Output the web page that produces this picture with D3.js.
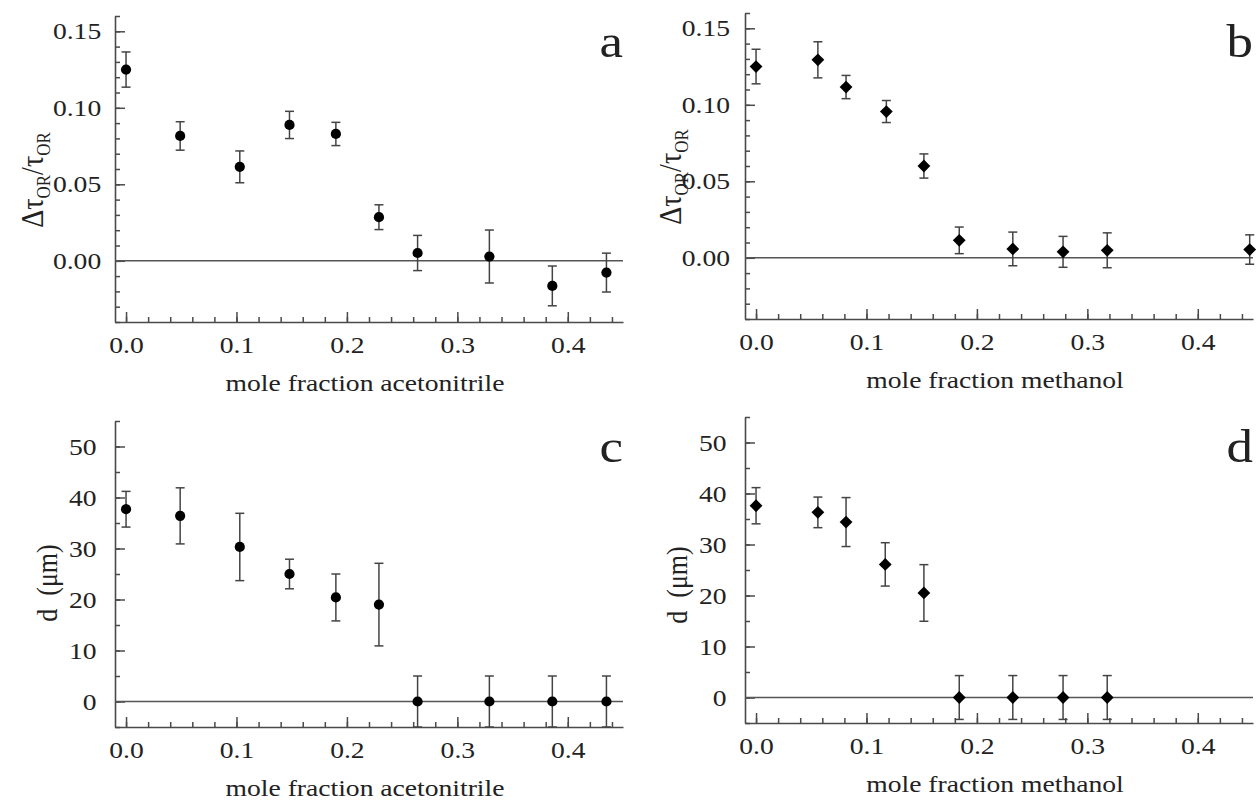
<!DOCTYPE html>
<html>
<head>
<meta charset="utf-8">
<script src="https://cdn.jsdelivr.net/npm/d3@7"></script>
<style>
  body { margin: 0; background: #fff; }
  text { font-family: "Liberation Serif", "Times New Roman", serif; fill: #222; }
</style>
</head>
<body>
<div id="chart"></div>
<script>
// mole fractions
const xAcn = [0, 0.049, 0.103, 0.148, 0.19, 0.229, 0.264, 0.329, 0.386, 0.435];
const xMeoh = [0, 0.056, 0.0815, 0.118, 0.152, 0.184, 0.2325, 0.278, 0.318, 0.447];
const xMeohD = [0, 0.056, 0.0815, 0.117, 0.152, 0.184, 0.2325, 0.278, 0.318];

// relative change of tau_OR
const tauAcn = [0.125, 0.0816, 0.0614, 0.0888, 0.0829, 0.0285, 0.0051, 0.0028, -0.0164, -0.0077];
const tauAcnErr = [0.0115, 0.0093, 0.0104, 0.0089, 0.0076, 0.0081, 0.0115, 0.0173, 0.013, 0.0127];
const tauMeoh = [0.125, 0.1294, 0.1116, 0.0956, 0.06, 0.0114, 0.0058, 0.0039, 0.0049, 0.0054];
const tauMeohErr = [0.0113, 0.0118, 0.0076, 0.0072, 0.0079, 0.0087, 0.011, 0.0101, 0.0114, 0.0096];

// d (um)
const dAcn = [37.7, 36.4, 30.3, 25, 20.4, 19.0, 0, 0, 0, 0];
const dAcnErr = [3.5, 5.5, 6.6, 2.9, 4.6, 8.1, 5, 5, 5, 5];
const dMeoh = [37.6, 36.3, 34.4, 26.1, 20.5, 0, 0, 0, 0];
const dMeohErr = [3.55, 3.0, 4.8, 4.25, 5.55, 4.3, 4.3, 4.3, 4.3];

const xMajor = [0, 0.1, 0.2, 0.3, 0.4];
const tauMajor = [0, 0.05, 0.10, 0.15];
const dMajor = [0, 10, 20, 30, 40, 50];

const W = 1259, H = 803;
const plotW = 508, plotH = 306;
const sx = 1.15; // the figure's text is a bit wide

const svg = d3.select("#chart").append("svg")
    .attr("width", W).attr("height", H);

function drawPanel(p) {
    const g = svg.append("g").attr("transform", `translate(${p.left},${p.top})`);

    const x = d3.scaleLinear().domain([-0.01, 0.45]).range([0, plotW]);
    const y = d3.scaleLinear().domain(p.yDomain).range([plotH, 0]);

    // minor ticks first
    const xMinor = d3.range(0, 23).map(i => i * 0.02);
    g.append("g").attr("transform", `translate(0,${plotH})`)
        .call(d3.axisBottom(x).tickValues(xMinor).tickSize(-5).tickSizeOuter(0).tickFormat(""))
        .call(a => a.select(".domain").remove());
    g.append("g")
        .call(d3.axisLeft(y).tickValues(p.yMinor).tickSize(-5).tickSizeOuter(0).tickFormat(""))
        .call(a => a.select(".domain").remove());

    const xAxis = g.append("g").attr("transform", `translate(0,${plotH})`)
        .call(d3.axisBottom(x).tickValues(xMajor).tickSize(-10).tickSizeOuter(0)
            .tickPadding(8).tickFormat(d3.format(".1f")));
    xAxis.selectAll("text").attr("y", 31).attr("dy", null)
        .attr("transform", `scale(${sx},1)`);

    const yAxis = g.append("g")
        .call(d3.axisLeft(y).tickValues(p.yMajor).tickSize(-10).tickSizeOuter(0)
            .tickPadding(p.labelGap).tickFormat(p.fmt));
    yAxis.selectAll("text").attr("transform", `scale(${sx},1)`);

    g.selectAll(".tick line").attr("stroke", "#4a4a4a").attr("stroke-width", 1.5);
    g.selectAll(".domain").attr("stroke", "#4a4a4a").attr("stroke-width", 1.6);
    g.selectAll(".tick text").attr("font-size", 24).attr("fill", "#2a2a2a")
        .attr("font-family", "'Liberation Serif', 'Times New Roman', serif");

    // zero line
    g.append("line")
        .attr("x1", 0).attr("x2", plotW)
        .attr("y1", y(0)).attr("y2", y(0))
        .attr("stroke", "#555").attr("stroke-width", 1.4);

    const pts = p.xs.map((v, i) => ({x: v, y: p.ys[i], e: p.errs[i]}));

    // error bars
    const eb = g.append("g").selectAll("g").data(pts).join("g")
        .attr("stroke", "#444").attr("stroke-width", 1.5);
    eb.append("line")
        .attr("x1", d => x(d.x)).attr("x2", d => x(d.x))
        .attr("y1", d => y(d.y - d.e)).attr("y2", d => y(d.y + d.e));
    eb.append("line")
        .attr("x1", d => x(d.x) - 4.5).attr("x2", d => x(d.x) + 4.5)
        .attr("y1", d => y(d.y + d.e)).attr("y2", d => y(d.y + d.e));
    eb.append("line")
        .attr("x1", d => x(d.x) - 4.5).attr("x2", d => x(d.x) + 4.5)
        .attr("y1", d => y(d.y - d.e)).attr("y2", d => y(d.y - d.e));

    // markers
    const diamond = p.marker === "diamond";
    const sym = diamond
        ? d3.symbol().type(d3.symbolSquare).size(82)
        : d3.symbol().type(d3.symbolCircle).size(82);
    g.append("g").selectAll("path").data(pts).join("path")
        .attr("d", sym)
        .attr("transform", d => `translate(${x(d.x)},${y(d.y)})` + (diamond ? " rotate(45)" : ""))
        .attr("fill", "#000");

    // axis title
    g.append("text")
        .attr("transform", `translate(${plotW / 2 - 4},${plotH + 69}) scale(${sx},1)`)
        .attr("text-anchor", "middle")
        .attr("font-size", 24)
        .text(p.xTitle);

    const yt = g.append("text")
        .attr("transform", `translate(${-p.yTitleX},${p.yTitleY}) scale(${sx},1) rotate(-90)`)
        .attr("text-anchor", "middle")
        .attr("font-size", p.tau ? 28 : 26);
    if (p.tau) {
        yt.append("tspan").text("\u0394\u03c4");
        yt.append("tspan").attr("font-size", 17).attr("dy", 6).text("OR");
        yt.append("tspan").attr("dy", -6).text("/\u03c4");
        yt.append("tspan").attr("font-size", 17).attr("dy", 6).text("OR");
    } else {
        yt.text("d\u00a0\u00a0(\u03bcm)");
    }

    // panel letter
    g.append("text")
        .attr("transform", `translate(${plotW},${p.letterY}) scale(${sx},1)`)
        .attr("text-anchor", "end")
        .attr("font-size", 46)
        .text(p.letter);
}

const tauMinor = d3.range(-4, 17).map(i => i * 0.01);
const dMinor = d3.range(-1, 12).map(i => i * 5);

drawPanel({left: 115, top: 16, xs: xAcn, ys: tauAcn, errs: tauAcnErr, marker: "circle",
    yDomain: [-0.04, 0.16], yMajor: tauMajor, yMinor: tauMinor, fmt: d3.format(".2f"), labelGap: 12,
    xTitle: "mole fraction acetonitrile", tau: true, yTitleX: 72, yTitleY: 164, letter: "a", letterY: 41});
drawPanel({left: 745, top: 13, xs: xMeoh, ys: tauMeoh, errs: tauMeohErr, marker: "diamond",
    yDomain: [-0.04, 0.16], yMajor: tauMajor, yMinor: tauMinor, fmt: d3.format(".2f"), labelGap: 13,
    xTitle: "mole fraction methanol", tau: true, yTitleX: 64, yTitleY: 164, letter: "b", letterY: 44});
drawPanel({left: 115, top: 421, xs: xAcn, ys: dAcn, errs: dAcnErr, marker: "circle",
    yDomain: [-5, 55], yMajor: dMajor, yMinor: dMinor, fmt: d3.format("d"), labelGap: 16,
    xTitle: "mole fraction acetonitrile", tau: false, yTitleX: 58, yTitleY: 162, letter: "c", letterY: 41});
drawPanel({left: 745, top: 417, xs: xMeohD, ys: dMeoh, errs: dMeohErr, marker: "diamond",
    yDomain: [-5, 55], yMajor: dMajor, yMinor: dMinor, fmt: d3.format("d"), labelGap: 16,
    xTitle: "mole fraction methanol", tau: false, yTitleX: 58, yTitleY: 168, letter: "d", letterY: 45});
</script>
</body>
</html>
